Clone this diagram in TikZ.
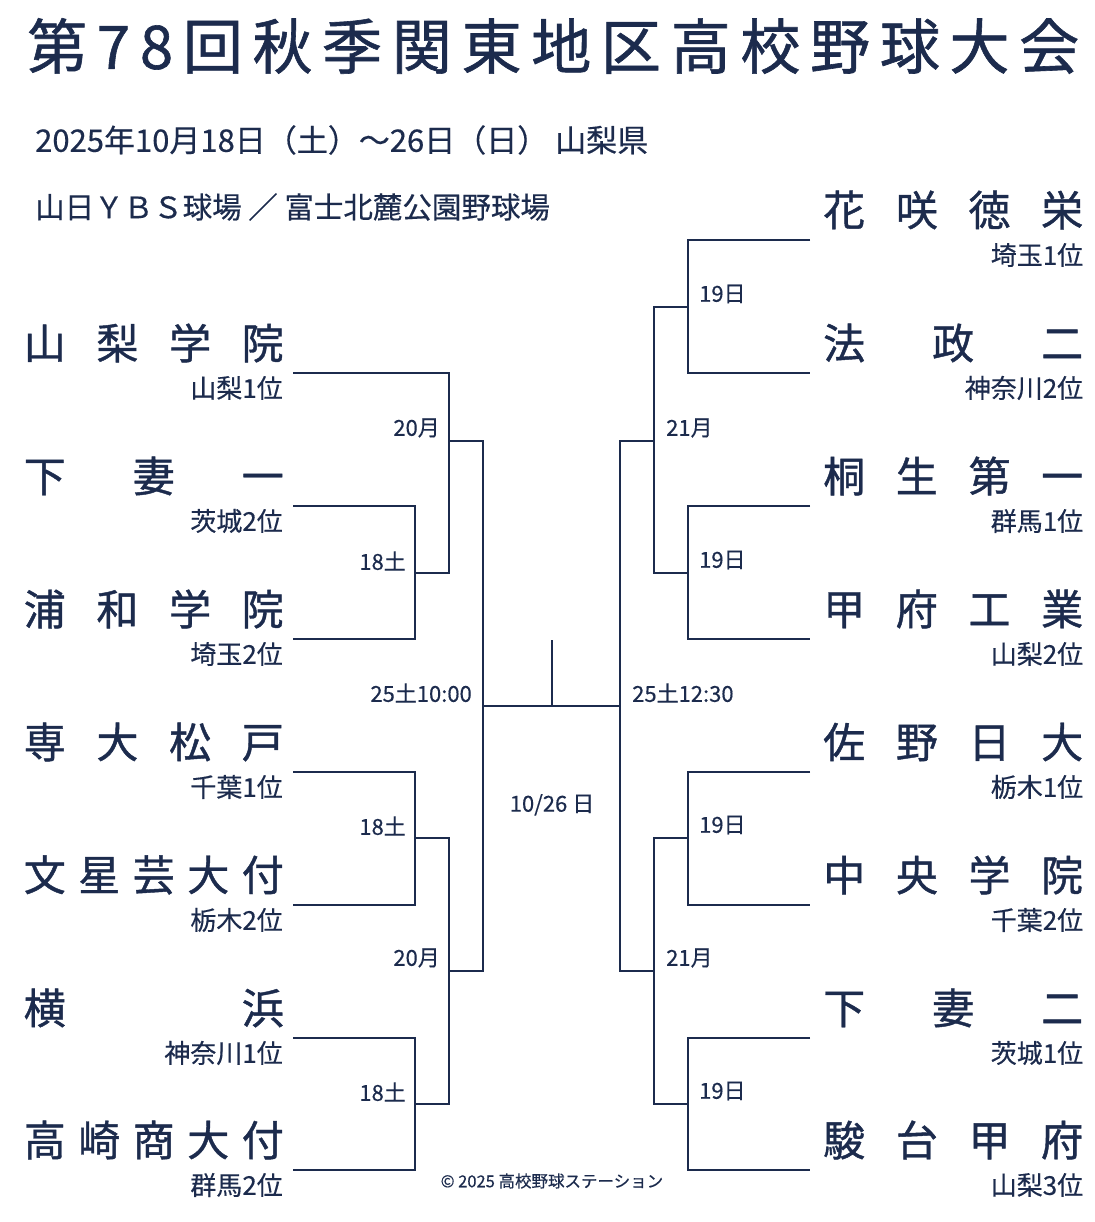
\documentclass[tikz,border=0pt]{standalone}
\usepackage{fontspec}
\setmainfont{Noto Sans CJK JP}[FakeBold=0.4]
\newfontfamily\heavyjp{Noto Sans CJK JP}[FakeBold=1.0]
\usepackage{xcolor}
\usetikzlibrary{positioning}
\definecolor{navy}{RGB}{28,43,77}
\newcommand{\spreadbox}[1]{\hbox to 260pt{#1}}

\begin{document}
\begin{tikzpicture}[
    x=1pt, y=-1pt,
    every node/.style={text=navy, inner sep=0pt},
    title/.style={font=\heavyjp\fontsize{60}{64}\selectfont},
    info/.style={font=\fontsize{31}{33}\selectfont},
    team/.style={font=\heavyjp\fontsize{42}{44}\selectfont},
    pref/.style={font=\fontsize{26}{28}\selectfont},
    day/.style={font=\fontsize{22}{24}\selectfont},
    bline/.style={draw=navy, line width=2.2pt}
]
\useasboundingbox (0,0) rectangle (1094,1222);

% header
\node[title, anchor=west] (ttl) at (27,46)
  {\hbox to 1052pt{第\hfill 7\hfill 8\hfill 回\hfill 秋\hfill 季\hfill 関\hfill 東\hfill 地\hfill 区\hfill 高\hfill 校\hfill 野\hfill 球\hfill 大\hfill 会}};
\node[info, anchor=west] (dates) at (35,140) {2025年10月18日（土）～26日（日） 山梨県};
\node[info, anchor=west, font=\fontsize{29.5}{31}\selectfont] (venue) at (35,207) {山日ＹＢＳ球場 ／ 富士北麓公園野球場};

% left block
\coordinate (tL1) at (293,373);
\coordinate (tL2) at (293,506);
\coordinate (tL3) at (293,639);
\coordinate (tL4) at (293,772);
\coordinate (tL5) at (293,905);
\coordinate (tL6) at (293,1038);
\coordinate (tL7) at (293,1170);

\node[team, left=9pt of tL1, yshift=30pt] (nL1) {\spreadbox{山\hfill 梨\hfill 学\hfill 院}};
\node[pref, left=10pt of tL1, yshift=-15pt] (pL1) {山梨1位};
\node[team, left=9pt of tL2, yshift=30pt] (nL2) {\spreadbox{下\hfill 妻\hfill 一}};
\node[pref, left=10pt of tL2, yshift=-15pt] (pL2) {茨城2位};
\node[team, left=9pt of tL3, yshift=30pt] (nL3) {\spreadbox{浦\hfill 和\hfill 学\hfill 院}};
\node[pref, left=10pt of tL3, yshift=-15pt] (pL3) {埼玉2位};
\node[team, left=9pt of tL4, yshift=30pt] (nL4) {\spreadbox{専\hfill 大\hfill 松\hfill 戸}};
\node[pref, left=10pt of tL4, yshift=-15pt] (pL4) {千葉1位};
\node[team, left=9pt of tL5, yshift=30pt] (nL5) {\spreadbox{文\hfill 星\hfill 芸\hfill 大\hfill 付}};
\node[pref, left=10pt of tL5, yshift=-15pt] (pL5) {栃木2位};
\node[team, left=9pt of tL6, yshift=30pt] (nL6) {\spreadbox{横\hfill 浜}};
\node[pref, left=10pt of tL6, yshift=-15pt] (pL6) {神奈川1位};
\node[team, left=9pt of tL7, yshift=30pt] (nL7) {\spreadbox{高\hfill 崎\hfill 商\hfill 大\hfill 付}};
\node[pref, left=10pt of tL7, yshift=-15pt] (pL7) {群馬2位};

\coordinate (gL1) at (415,573);
\coordinate (gL2) at (449,441);
\coordinate (gL3) at (415,838);
\coordinate (gL4) at (415,1104);
\coordinate (gL5) at (449,971);
\coordinate (sfL) at (483,706);

\draw[bline] (tL2) -| (gL1) |- (tL3);
\draw[bline] (gL1) -| (gL2) |- (tL1);
\draw[bline] (tL4) -| (gL3) |- (tL5);
\draw[bline] (tL6) -| (gL4) |- (tL7);
\draw[bline] (gL3) -| (gL5) |- (gL4);
\draw[bline] (gL2) -| (sfL) |- (gL5);

\node[day, left=9pt of gL1, yshift=12pt] (dL1) {18土};
\node[day, left=9pt of gL2, yshift=13pt] (dL2) {20月};
\node[day, left=9pt of gL3, yshift=12pt] (dL3) {18土};
\node[day, left=9pt of gL4, yshift=12pt] (dL4) {18土};
\node[day, left=9pt of gL5, yshift=13pt] (dL5) {20月};
\node[day, left=11pt of sfL, yshift=13pt] (dSL) {25土10:00};

% right block
\coordinate (tR1) at (810,240);
\coordinate (tR2) at (810,373);
\coordinate (tR3) at (810,506);
\coordinate (tR4) at (810,639);
\coordinate (tR5) at (810,772);
\coordinate (tR6) at (810,905);
\coordinate (tR7) at (810,1038);
\coordinate (tR8) at (810,1170);

\node[team, right=13pt of tR1, yshift=30pt] (nR1) {\spreadbox{花\hfill 咲\hfill 徳\hfill 栄}};
\node[pref, anchor=east] (pR1) at ([yshift=-45pt]nR1.east) {埼玉1位};
\node[team, right=13pt of tR2, yshift=30pt] (nR2) {\spreadbox{法\hfill 政\hfill 二}};
\node[pref, anchor=east] (pR2) at ([yshift=-45pt]nR2.east) {神奈川2位};
\node[team, right=13pt of tR3, yshift=30pt] (nR3) {\spreadbox{桐\hfill 生\hfill 第\hfill 一}};
\node[pref, anchor=east] (pR3) at ([yshift=-45pt]nR3.east) {群馬1位};
\node[team, right=13pt of tR4, yshift=30pt] (nR4) {\spreadbox{甲\hfill 府\hfill 工\hfill 業}};
\node[pref, anchor=east] (pR4) at ([yshift=-45pt]nR4.east) {山梨2位};
\node[team, right=13pt of tR5, yshift=30pt] (nR5) {\spreadbox{佐\hfill 野\hfill 日\hfill 大}};
\node[pref, anchor=east] (pR5) at ([yshift=-45pt]nR5.east) {栃木1位};
\node[team, right=13pt of tR6, yshift=30pt] (nR6) {\spreadbox{中\hfill 央\hfill 学\hfill 院}};
\node[pref, anchor=east] (pR6) at ([yshift=-45pt]nR6.east) {千葉2位};
\node[team, right=13pt of tR7, yshift=30pt] (nR7) {\spreadbox{下\hfill 妻\hfill 二}};
\node[pref, anchor=east] (pR7) at ([yshift=-45pt]nR7.east) {茨城1位};
\node[team, right=13pt of tR8, yshift=30pt] (nR8) {\spreadbox{駿\hfill 台\hfill 甲\hfill 府}};
\node[pref, anchor=east] (pR8) at ([yshift=-45pt]nR8.east) {山梨3位};

\coordinate (gR1) at (688,307);
\coordinate (gR2) at (688,573);
\coordinate (gR3) at (654,441);
\coordinate (gR4) at (688,838);
\coordinate (gR5) at (688,1104);
\coordinate (gR6) at (654,971);
\coordinate (sfR) at (620,706);

\draw[bline] (tR1) -| (gR1) |- (tR2);
\draw[bline] (tR3) -| (gR2) |- (tR4);
\draw[bline] (gR1) -| (gR3) |- (gR2);
\draw[bline] (tR5) -| (gR4) |- (tR6);
\draw[bline] (tR7) -| (gR5) |- (tR8);
\draw[bline] (gR4) -| (gR6) |- (gR5);
\draw[bline] (gR3) -| (sfR) |- (gR6);

\node[day, right=11pt of gR1, yshift=13pt] (dR1) {19日};
\node[day, right=11pt of gR2, yshift=13pt] (dR2) {19日};
\node[day, right=12pt of gR3, yshift=13pt] (dR3) {21月};
\node[day, right=11pt of gR4, yshift=13pt] (dR4) {19日};
\node[day, right=11pt of gR5, yshift=13pt] (dR5) {19日};
\node[day, right=12pt of gR6, yshift=13pt] (dR6) {21月};
\node[day, right=12pt of sfR, yshift=13pt] (dSR) {25土12:30};

% final
\coordinate (fin) at (552,706);
\coordinate (champ) at (552,640);
\draw[bline] (sfL) -- (sfR);
\draw[bline] (fin) -- (champ);
\node[day, below=88pt of fin] (dF) {10/26 日};

\node[font=\fontsize{16.5}{18}\selectfont] (copy) at (552,1181) {© 2025 高校野球ステーション};
\end{tikzpicture}
\end{document}
